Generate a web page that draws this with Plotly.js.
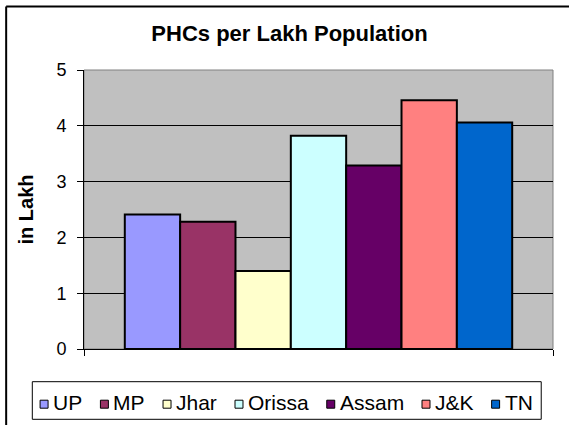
<!DOCTYPE html>
<html>
<head>
<meta charset="utf-8">
<script src="https://cdn.plot.ly/plotly-3.0.1.min.js"></script>
<style>
html,body{margin:0;padding:0;background:#fff;}
#chart{width:569px;height:425px;}
</style>
</head>
<body>
<div id="chart"></div>
<script>
const states = ["UP", "MP", "Jhar", "Orissa", "Assam", "J&K", "TN"];
const phcsPerLakh = [2.41, 2.28, 1.40, 3.82, 3.29, 4.46, 4.06];
const barColors = ["#9999FF", "#993366", "#FFFFCC", "#CCFFFF", "#660066", "#FF8080", "#0066CC"];
const yTicks = [0, 1, 2, 3, 4, 5];

const font = "Liberation Sans, Arial, sans-serif";
const W = 569, H = 425;
const M = {l: 83.5, r: 15.5, t: 70, b: 76};
const PW = W - M.l - M.r, PH = H - M.t - M.b;
// pixel -> paper helpers (layout only)
const px = x => (x - M.l) / PW;
const py = y => (H - M.b - y) / PH;

const traces = states.map((s, i) => ({
  type: "bar",
  name: s,
  x: [0],
  y: [phcsPerLakh[i]],
  marker: {color: barColors[i], line: {color: "#000000", width: 2}},
  hoverinfo: "name+y",
  showlegend: false
}));

// ---- custom legend (layout only): box, swatches and labels ----
const legFont = 21;
const ctx = document.createElement("canvas").getContext("2d");
ctx.font = legFont + "px 'Liberation Sans'";
const textW = states.map(s => ctx.measureText(s).width);
const legLeft = 31.7, legRight = 541.7, legTop = 381.7, legBottom = 419.3;
const firstSq = 39.5, lastTextEnd = 532, sq = 8, g1 = 4;
const sumText = textW.reduce((a, b) => a + b, 0);
const g2 = (lastTextEnd - firstSq - states.length * (sq + g1) - sumText) / (states.length - 1);
const sqCy = 404.2, textCy = 402.5;

const shapes = [
  {type: "rect", xref: "paper", yref: "paper", x0: 0, x1: 1, y0: 0, y1: 1,
   line: {color: "#808080", width: 1}, fillcolor: "rgba(0,0,0,0)", layer: "below"},
  {type: "line", xref: "paper", yref: "paper", x0: px(5.5), x1: px(600), y0: py(6.5), y1: py(6.5),
   line: {color: "#000", width: 2}},
  {type: "line", xref: "paper", yref: "paper", x0: px(5.5), x1: px(5.5), y0: py(6.5), y1: py(440),
   line: {color: "#000", width: 2}},
  {type: "rect", xref: "paper", yref: "paper", x0: px(legLeft), x1: px(legRight), y0: py(legBottom), y1: py(legTop),
   line: {color: "#000", width: 1}, fillcolor: "#fff"}
];
const annotations = [];
let cx = firstSq;
states.forEach((s, i) => {
  shapes.push({type: "rect", xref: "paper", yref: "paper",
    x0: px(cx), x1: px(cx + sq), y0: py(sqCy + sq / 2), y1: py(sqCy - sq / 2),
    line: {color: "#000", width: 1}, fillcolor: barColors[i]});
  cx += sq + g1;
  annotations.push({xref: "paper", yref: "paper", x: px(cx), y: py(textCy),
    xanchor: "left", yanchor: "middle", showarrow: false, text: s,
    font: {family: font, size: legFont, color: "#000"}, borderpad: 0});
  cx += textW[i] + g2;
});

const layout = {
  width: W,
  height: H,
  margin: {l: M.l, r: M.r, t: M.t, b: M.b, pad: 0},
  paper_bgcolor: "#ffffff",
  plot_bgcolor: "#C0C0C0",
  font: {family: font, size: 17, color: "#000"},
  title: {
    text: "<b>PHCs per Lakh Population</b>",
    font: {family: font, size: 22, color: "#000"},
    x: 289.5 / W, xanchor: "center", xref: "container",
    y: 1 - 33 / H, yanchor: "middle", yref: "container"
  },
  barmode: "group",
  bargap: 0.174,
  bargroupgap: 0,
  xaxis: {
    range: [-0.5, 0.5],
    tickvals: [-0.5, 0.5],
    ticktext: ["", ""],
    ticks: "outside",
    ticklen: 6,
    tickcolor: "#000",
    showgrid: false,
    zeroline: false,
    showline: true,
    linecolor: "#000",
    linewidth: 1,
    fixedrange: true
  },
  yaxis: {
    range: [0, 5],
    tickvals: yTicks,
    ticktext: yTicks.map(String),
    ticks: "outside",
    ticklen: 6,
    tickcolor: "#000",
    ticklabelstandoff: 7,
    showgrid: true,
    gridcolor: "#000",
    gridwidth: 1,
    zeroline: false,
    showline: true,
    linecolor: "#000",
    linewidth: 1,
    tickfont: {family: font, size: 18},
    title: {text: "<b>in Lakh</b>", font: {family: font, size: 20}, standoff: 17},
    fixedrange: true
  },
  showlegend: false,
  shapes: shapes,
  annotations: annotations
};

Plotly.newPlot("chart", traces, layout, {displayModeBar: false, staticPlot: true});
</script>
</body>
</html>
